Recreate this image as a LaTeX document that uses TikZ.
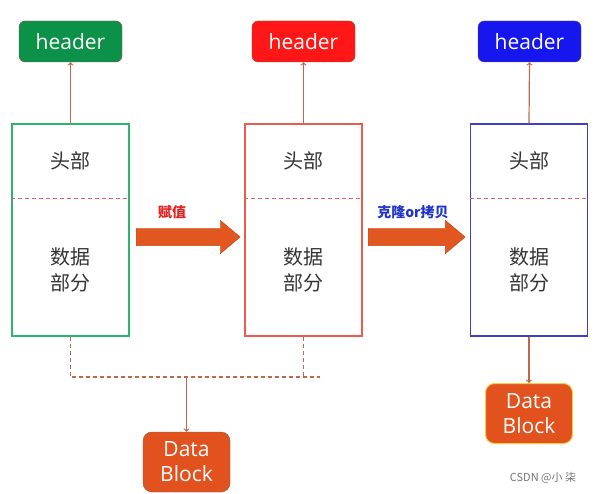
\documentclass[tikz,border=0pt]{standalone}
\usepackage{fontspec}
\setmainfont{Open Sans}
\newfontfamily\cjk{Noto Sans CJK SC}
\usepackage{xcolor}
\usepackage{tikz}
\usetikzlibrary{positioning}
\usetikzlibrary{arrows, shapes.arrows, calc}

\definecolor{hgreen}{RGB}{12,145,72}
\definecolor{hred}{RGB}{255,22,22}
\definecolor{hblue}{RGB}{22,22,238}
\definecolor{hborder}{RGB}{140,80,60}
\definecolor{bgreen}{RGB}{45,180,110}
\definecolor{bred}{RGB}{236,92,78}
\definecolor{bblue}{RGB}{62,62,200}
\definecolor{sepred}{RGB}{230,95,85}
\definecolor{linkbrown}{RGB}{190,105,75}
\definecolor{blockorange}{RGB}{226,82,30}
\definecolor{blockyellow}{RGB}{245,205,70}
\definecolor{arroworange}{RGB}{226,86,32}
\definecolor{lred}{RGB}{228,32,32}
\definecolor{lblue}{RGB}{32,52,205}

\tikzset{
    header/.style={draw=hborder, rounded corners=6pt, minimum width=103pt,
        minimum height=41pt, inner sep=0pt, text=white,
        font=\fontsize{21}{25}\selectfont},
    part/.style={draw, line width=1.3pt, minimum width=117pt,
        minimum height=212pt, inner sep=0pt},
    sepline/.style={sepred, dash pattern=on 4pt off 3pt, line width=1pt},
    cjktext/.style={align=center, text=black!80,
        font=\cjk\fontsize{20}{26}\selectfont},
    link/.style={->, linkbrown, line width=1.2pt},
    dataline/.style={linkbrown, dash pattern=on 4pt off 3pt, line width=1.2pt},
    datablock/.style={fill=blockorange, rounded corners=9pt, minimum width=87pt,
        minimum height=60pt, inner sep=0pt, align=center, text=white,
        font=\fontsize{21}{25}\selectfont},
    fatarrow/.style={single arrow, fill=arroworange, draw=arroworange!85!black,
        minimum width=33pt, single arrow head extend=8pt,
        single arrow tip angle=80, inner sep=8.5pt, shape border rotate=0,
        anchor=tail},
    lbl/.style={font=\cjk\bfseries\fontsize{14}{16}\selectfont},
    wmark/.style={text=black!55, font=\cjk\fontsize{11}{13}\selectfont}
}

\begin{document}
\begin{tikzpicture}[x=1pt,y=-1pt]
        \useasboundingbox (0,0) rectangle (597,494);
        \begin{scope}
            \node[header, fill=hgreen] (hdrA) at (70.5,41.5) {header};
            \node[part, draw=bgreen] (objA) at (70.5,230) {};
            \draw[sepline] ([yshift=-75pt]objA.north west) -- ([yshift=-75pt]objA.north east);
            \node[cjktext] (headA) at (70.5,161) {头部};
            \node[cjktext] (dataA) at (70.5,270) {数据\\部分};
            \draw[link] (objA.north) -- (hdrA.south);
        \end{scope}
        \begin{scope}
            \node[header, fill=hred] (hdrB) at (303.5,41.5) {header};
            \node[part, draw=bred] (objB) at (303.5,230) {};
            \draw[sepline] ([yshift=-75pt]objB.north west) -- ([yshift=-75pt]objB.north east);
            \node[cjktext] (headB) at (303.5,161) {头部};
            \node[cjktext] (dataB) at (303.5,270) {数据\\部分};
            \draw[link] (objB.north) -- (hdrB.south);
        \end{scope}
        \begin{scope}
            \node[header, fill=hblue] (hdrC) at (529.5,41.5) {header};
            \node[part, draw=bblue] (objC) at (529,230) {};
            \draw[sepline] ([yshift=-75pt]objC.north west) -- ([yshift=-75pt]objC.north east);
            \node[cjktext] (headC) at (529,161) {头部};
            \node[cjktext] (dataC) at (529,270) {数据\\部分};
            \draw[link] (objC.north) -- (hdrC.south);
        \end{scope}

        \node[fatarrow, minimum height=104pt] (assign) at (136,237) {};
        \node[lbl, text=lred] (assignlbl) at (172,212) {赋值};
        \node[fatarrow, minimum height=97pt] (clone) at (368,237) {};
        \node[lbl, text=lblue] (clonelbl) at (413,212) {克隆or拷贝};

        \node[datablock, draw=hborder] (blockA) at (186.5,462) {Data\\Block};
        \node[datablock, draw=blockyellow, line width=1pt] (blockC) at (529,413.5) {Data\\Block};

        \coordinate (joinR) at (320,377);
        \coordinate (joinM) at (blockA.north |- joinR);
        \draw[dataline] (objA.south) |- (joinR);
        \draw[dataline] (objB.south) -- (objB.south |- joinR);
        \draw[link] (joinM) -- (blockA.north);
        \draw[link] (objC.south) -- (blockC.north);

        \node[wmark] (credit) at (543,478) {CSDN @小 柒};
    \end{tikzpicture}
\end{document}
